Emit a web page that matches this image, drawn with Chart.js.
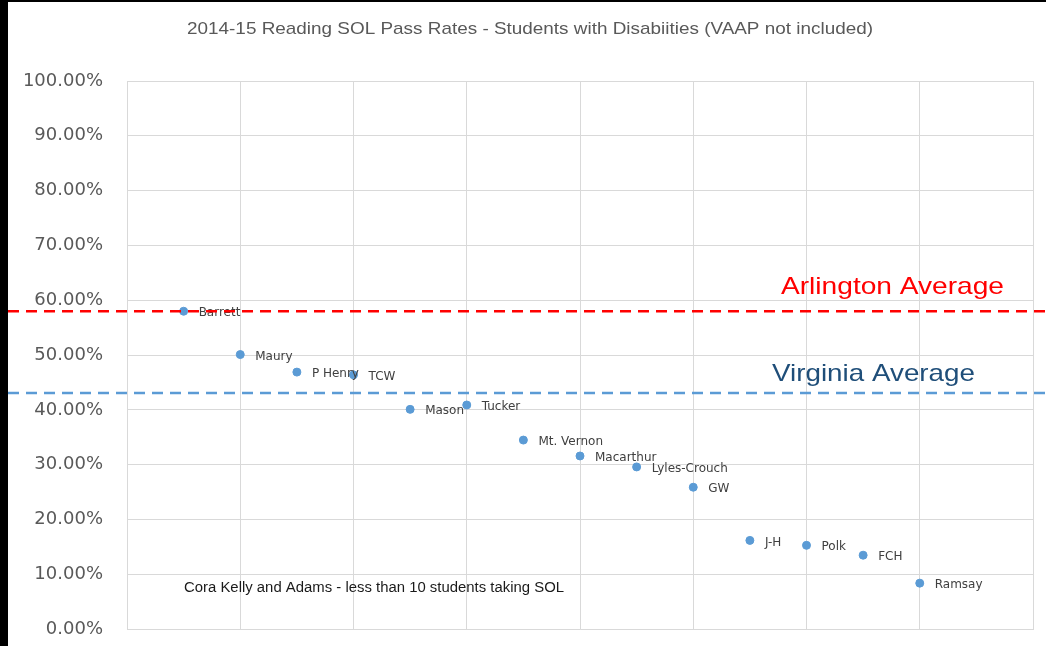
<!DOCTYPE html>
<html>
<head>
<meta charset="utf-8">
<script src="https://cdn.jsdelivr.net/npm/chart.js@4/dist/chart.umd.min.js"></script>
<style>
  html, body { margin: 0; padding: 0; background: #000; width: 1046px; height: 646px; overflow: hidden; }
  #wrap { position: absolute; left: 8px; top: 2px; width: 1038px; height: 644px; background: #fff; overflow: hidden; }
  canvas { display: block; }
</style>
</head>
<body>
<div id="wrap"><canvas id="c" width="1038" height="644"></canvas></div>
<script>
const titleText = '2014-15 Reading SOL Pass Rates - Students with Disabiities (VAAP not included)';
const schools = ['Barrett','Maury','P Henry','TCW','Mason','Tucker','Mt. Vernon','Macarthur','Lyles-Crouch','GW','J-H','Polk','FCH','Ramsay'];
const xValues = [1,2,3,4,5,6,7,8,9,10,11,12,13,14];
const passRates = [0.580,0.501,0.469,0.464,0.401,0.409,0.345,0.316,0.296,0.259,0.162,0.153,0.135,0.084];
const arlingtonAvg = 0.580;
const virginiaAvg = 0.431;
const noteText = 'Cora Kelly and Adams - less than 10 students taking SOL';

const points = xValues.map((x, i) => ({ x: x, y: passRates[i], label: schools[i] }));

function fitText(ctx, text, x, y, width) {
  const w = ctx.measureText(text).width;
  ctx.save();
  ctx.translate(x, y);
  ctx.scale(width / w, 1);
  ctx.fillText(text, 0, 0);
  ctx.restore();
}

const overlay = {
  id: 'overlay',
  afterDatasetsDraw(chart) {
    const ctx = chart.ctx;
    const ys = chart.scales.y;
    const W = chart.width;
    ctx.save();
    // title
    ctx.fillStyle = '#595959';
    ctx.font = '17px "Liberation Sans", Arial, sans-serif';
    ctx.textAlign = 'left';
    ctx.textBaseline = 'middle';
    fitText(ctx, titleText, 179, 27, 686);
    // data labels
    ctx.fillStyle = '#404040';
    ctx.font = '12px "DejaVu Sans", sans-serif';
    const meta = chart.getDatasetMeta(0);
    meta.data.forEach((pt, i) => {
      ctx.fillText(schools[i], pt.x + 15, pt.y + 2);
    });
    // average lines
    const drawLine = (val, color) => {
      const py = ys.getPixelForValue(val);
      ctx.beginPath();
      ctx.setLineDash([11, 7]);
      ctx.strokeStyle = color;
      ctx.lineWidth = 2.5;
      ctx.moveTo(0, py);
      ctx.lineTo(W, py);
      ctx.stroke();
      return py;
    };
    const ay = drawLine(arlingtonAvg, '#FF0000');
    const vy = drawLine(virginiaAvg, '#5B9BD5');
    ctx.setLineDash([]);
    ctx.font = '24px "Liberation Sans", Arial, sans-serif';
    ctx.fillStyle = '#FF0000';
    fitText(ctx, 'Arlington Average', 773, ay - 24, 223);
    ctx.fillStyle = '#1F4E79';
    fitText(ctx, 'Virginia Average', 764, vy - 19, 203);
    // note
    ctx.fillStyle = '#1a1a1a';
    ctx.font = '14px "Liberation Sans", Arial, sans-serif';
    fitText(ctx, noteText, 176, ys.getPixelForValue(0.075), 380);
    ctx.restore();
  }
};

const canvas = document.getElementById('c');
canvas.height = 662;

new Chart(canvas, {
  type: 'scatter',
  data: {
    datasets: [{
      data: points,
      backgroundColor: '#5B9BD5',
      borderColor: '#5B9BD5',
      pointRadius: 4,
      pointHoverRadius: 4
    }]
  },
  options: {
    responsive: false,
    animation: false,
    layout: { padding: { top: 79, right: 13, bottom: 0, left: 0 } },
    plugins: { legend: { display: false }, title: { display: false }, tooltip: { enabled: false } },
    scales: {
      x: {
        type: 'linear', min: 0, max: 16,
        ticks: { display: false, stepSize: 2 },
        grid: { color: '#D9D9D9', lineWidth: 1, drawTicks: false },
        border: { color: '#D9D9D9' },
        afterFit(s) { s.height = 0; }
      },
      y: {
        min: 0, max: 1,
        ticks: {
          stepSize: 0.1,
          padding: 24,
          color: '#595959',
          font: { family: '"DejaVu Sans", sans-serif', size: 18 },
          callback: v => (v * 100).toFixed(2) + '%'
        },
        grid: { color: '#D9D9D9', lineWidth: 1, drawTicks: false },
        border: { color: '#D9D9D9' },
        afterFit(s) { s.width = 119; }
      }
    }
  },
  plugins: [overlay]
});
</script>
</body>
</html>
